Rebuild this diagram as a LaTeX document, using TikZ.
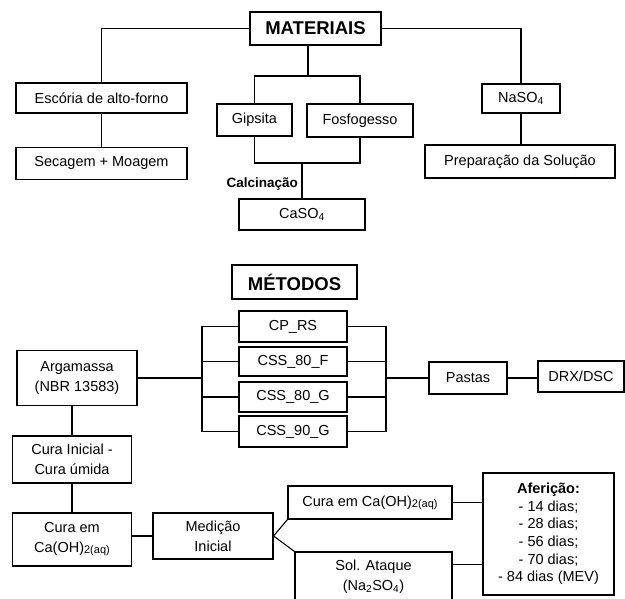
\documentclass[tikz,border=0pt]{standalone}
\usepackage{fontspec}
\setmainfont{Liberation Sans}
\usepackage{tikz}
\usetikzlibrary{positioning,calc}
\newcommand{\aqpart}{\raisebox{-1pt}{\fontsize{11}{12}\selectfont 2(aq)}}

\begin{document}
\begin{tikzpicture}[
    x=1pt, y=-1pt,
    nbox/.style={draw, line width=1.1pt, inner sep=2pt, align=center,
                 font=\fontsize{14.5}{20}\selectfont},
    tbox/.style={nbox, font=\bfseries\fontsize{18.5}{22}\selectfont},
    lnk/.style={draw, line width=1.1pt},
]
\useasboundingbox (0,0) rectangle (625,599);

\node[tbox, minimum width=131pt, minimum height=33pt] (mat) at (315.5,28.5) {MATERIAIS};
\node[nbox, minimum width=171pt, minimum height=30pt] (esc) at (101.5,98) {Escória de alto-forno};
\node[nbox, minimum width=171pt, minimum height=32pt,
      below=33pt of esc] (sec) {Secagem + Moagem};
\node[nbox, minimum width=75pt, minimum height=32pt] (gip) at (254.5,120) {Gipsita};
\node[nbox, minimum width=106pt, minimum height=33pt] (fos) at (360,120.5) {Fosfogesso};
\node[nbox, minimum width=126pt, minimum height=31pt] (caso) at (302,214.5) {CaSO\textsubscript{4}};
\node[font=\bfseries\fontsize{13.5}{16}\selectfont, anchor=east, inner sep=1pt] (calc) at (299,184) {Calcinação};
\node[nbox, minimum width=78pt, minimum height=29pt] (naso) at (521,98.5) {NaSO\textsubscript{4}};
\node[nbox, minimum width=190pt, minimum height=33pt] (prep) at (520,161.5) {Preparação da Solução};

\coordinate (jmat) at (308,76);
\coordinate (jgip) at (302,163);
\draw[lnk] (mat.west) -| (esc.north);
\draw[lnk] (mat.east) -| (naso.north);
\draw[lnk] (mat.south -| jmat) -- (jmat);
\draw[lnk] (gip.north) |- (jmat) -| (fos.north);
\draw[lnk] (esc) -- (sec);
\draw[lnk] (naso.south) -- (naso.south |- prep.north);
\draw[lnk] (gip.south) |- (jgip) -| (fos.south);
\draw[lnk] (jgip) -- (caso.north);

\node[tbox, minimum width=125pt, minimum height=34pt] (met) at (294.5,282) {MÉTODOS};
\node[nbox, minimum width=108pt, minimum height=31pt] (cprs) at (293,326.5) {CP\_RS};
\node[nbox, minimum width=108pt, minimum height=29pt] (cssf) at (293,361.5) {CSS\_80\_F};
\node[nbox, minimum width=108pt, minimum height=30pt] (cssg) at (293,397) {CSS\_80\_G};
\node[nbox, minimum width=108pt, minimum height=31pt] (cssn) at (293,431.5) {CSS\_90\_G};
\node[nbox, minimum width=120pt, minimum height=55pt] (arg) at (77,378) {Argamassa\\(NBR 13583)};
\node[nbox, minimum width=78pt, minimum height=32pt] (pas) at (468,378) {Pastas};
\node[nbox, minimum width=86pt, minimum height=31pt] (drx) at (581,376.5) {DRX/DSC};

\coordinate (jarg) at (202,378);
\coordinate (jpas) at (386,378);
\draw[lnk] (arg.east) -- (jarg);
\draw[lnk] (cprs.west) -| (jarg) |- (cssn.west);
\draw[lnk] (cssf.west) -- (cssf.west -| jarg);
\draw[lnk] (cssg.west) -- (cssg.west -| jarg);
\draw[lnk] (cprs.east) -| (jpas) |- (cssn.east);
\draw[lnk] (cssf.east) -- (cssf.east -| jpas);
\draw[lnk] (cssg.east) -- (cssg.east -| jpas);
\draw[lnk] (jpas) -- (pas.west);
\draw[lnk] (pas.east) -- (pas.east -| drx.west);

\node[nbox, minimum width=119pt, minimum height=47pt] (cin) at (72,459.5) {Cura Inicial -\\Cura úmida};
\node[nbox, minimum width=119pt, minimum height=53pt] (cem) at (72,539.5) {Cura em\\Ca(OH)\aqpart};
\node[nbox, minimum width=120pt, minimum height=46pt] (med) at (213,536) {Medição\\Inicial};
\node[nbox, minimum width=164pt, minimum height=33pt] (cca) at (370,502.5) {Cura em Ca(OH)\aqpart};
\node[nbox, minimum width=157pt, minimum height=49pt] (sol) at (373.5,576.5) {Sol. Ataque\\(Na\textsubscript{2}SO\textsubscript{4})};
\node[nbox, minimum width=131pt, minimum height=122pt, font=\fontsize{14.5}{17.6}\selectfont] (af) at (548.5,534)
    {\textbf{Aferição:}\\- 14 dias;\\- 28 dias;\\- 56 dias;\\- 70 dias;\\- 84 dias (MEV)};

\coordinate (jsol) at ($(sol.north east)+(0,13)$);
\draw[lnk] (arg.south -| cin.north) -- (cin.north);
\draw[lnk] (cin) -- (cem);
\draw[lnk] (cem.east |- med.west) -- (med.west);
\draw[lnk] (med.east) -- (cca.south west);
\draw[lnk] (med.east) -- (sol.north west);
\draw[lnk] (cca.east) -- (cca.east -| af.west);
\draw[lnk] (jsol) -- (jsol -| af.west);
\end{tikzpicture}
\end{document}
